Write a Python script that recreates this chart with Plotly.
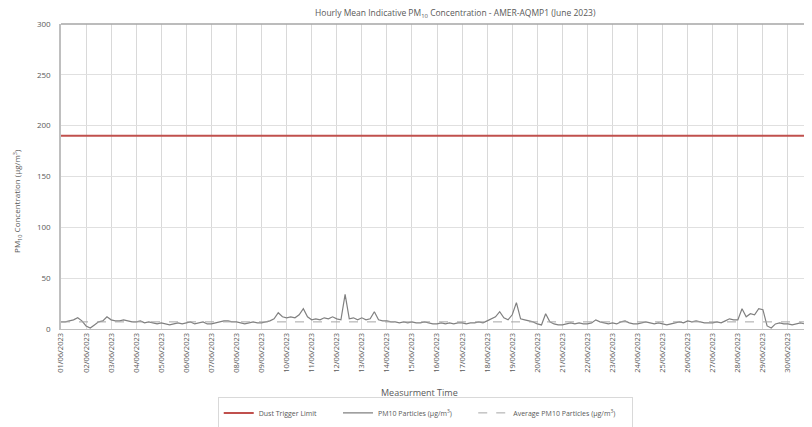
import pandas as pd
import plotly.graph_objects as go

# 4-hourly readings (6 per day), June 2023
pm10_by_day = [
    [7, 7, 8, 9, 11, 8],
    [3, 1, 4, 7, 8, 12],
    [9, 8, 8, 9, 8, 7],
    [7, 8, 6, 7, 6, 5],
    [6, 5, 4, 5, 6, 5],
    [6, 7, 5, 6, 7, 5],
    [5, 6, 7, 8, 8, 7],
    [7, 6, 5, 6, 7, 6],
    [6, 7, 8, 10, 16, 12],
    [11, 12, 11, 14, 20, 12],
    [9, 10, 9, 11, 10, 12],
    [10, 9, 34, 10, 11, 9],
    [11, 9, 10, 17, 9, 8],
    [8, 7, 7, 6, 7, 6],
    [7, 6, 6, 7, 6, 5],
    [5, 6, 5, 6, 5, 6],
    [6, 5, 6, 6, 7, 6],
    [8, 10, 12, 17, 11, 9],
    [14, 26, 10, 9, 8, 7],
    [5, 4, 15, 7, 5, 4],
    [4, 5, 6, 5, 6, 5],
    [5, 6, 9, 7, 6, 5],
    [6, 5, 7, 8, 6, 5],
    [5, 6, 7, 6, 5, 6],
    [5, 4, 5, 6, 7, 6],
    [8, 7, 8, 7, 6, 6],
    [6, 7, 6, 8, 10, 9],
    [9, 20, 12, 15, 14, 20],
    [19, 3, 1, 5, 6, 5],
    [5, 4, 5, 6, 5, 4],
]
pm10_values = [v for day in pm10_by_day for v in day]
times = pd.date_range("2023-06-01 00:00", periods=len(pm10_values), freq="4h")
dust_trigger_limit = 190
average_pm10 = 7

title_text = "Hourly Mean Indicative PM<sub>10</sub> Concentration - AMER-AQMP1 (June 2023)"
y_title = "PM<sub>10</sub> Concentration (μg/m<sup>3</sup>)"
x_title = "Measurment Time"
legend_names = ["Dust Trigger Limit         ",
                "PM10 Particles (μg/m<sup>3</sup>)         ",
                "Average PM10 Particles (μg/m<sup>3</sup>)      "]

font_family = "Open Sans, Liberation Sans, sans-serif"
txt = "#595959"

fig = go.Figure()
fig.add_trace(go.Scatter(
    x=[times[0], pd.Timestamp("2023-07-01")], y=[dust_trigger_limit] * 2,
    mode="lines", name=legend_names[0],
    line=dict(color="#c0504d", width=2)))
fig.add_trace(go.Scatter(
    x=times, y=pm10_values, mode="lines", name=legend_names[1],
    line=dict(color="#808080", width=1.2)))
fig.add_trace(go.Scatter(
    x=[times[0], pd.Timestamp("2023-07-01")], y=[average_pm10] * 2,
    mode="lines", name=legend_names[2],
    line=dict(color="#a6a6a6", width=1, dash="dash")))

fig.update_layout(
    width=812, height=427,
    margin=dict(l=53, r=8, t=16, b=106, autoexpand=False),
    paper_bgcolor="white", plot_bgcolor="white",
    font=dict(family=font_family, size=8, color=txt),
    showlegend=True,
    legend=dict(orientation="h", x=0.485, y=-0.275, xanchor="center", yanchor="middle",
                bordercolor="#d9d9d9", borderwidth=1, font=dict(size=7, color=txt),
                tracegroupgap=0),
    xaxis=dict(
        type="date", range=["2023-06-01 00:00", "2023-06-30 23:00"],
        tickformat="%d/%m/%Y", dtick=86400000, tick0="2023-06-01",
        tickangle=-90, tickfont=dict(size=7.5, color=txt),
        showgrid=True, gridcolor="#d9d9d9", gridwidth=1,
        showline=True, linecolor="#bfbfbf", linewidth=1,
        ticks="", zeroline=False, automargin=False),
    yaxis=dict(
        range=[0, 300], dtick=50, tickfont=dict(size=8, color=txt),
        showgrid=True, gridcolor="#e0e0e0", gridwidth=1,
        showline=True, linecolor="#bfbfbf", linewidth=1.5, mirror=False,
        ticks="", zeroline=False, automargin=False, ticklabelstandoff=7),
    annotations=[
        dict(text=title_text, xref="paper", yref="paper", x=0.525, y=1.0, yshift=11,
             showarrow=False, font=dict(size=8.5, color=txt), xanchor="center", yanchor="middle"),
        dict(text=x_title, xref="paper", yref="paper", x=0.477, y=-0.207,
             showarrow=False, font=dict(size=9, color=txt), xanchor="center", yanchor="middle"),
        dict(text=y_title, xref="paper", yref="paper", x=0, xshift=-43, y=0.42,
             textangle=-90, showarrow=False, font=dict(size=8, color=txt),
             xanchor="center", yanchor="middle"),
    ],
    shapes=[dict(type="line", xref="paper", yref="paper", x0=0, x1=1, y0=1, y1=1,
                 line=dict(color="#a6a6a6", width=1.5))],
)

fig.write_html("out.html")
